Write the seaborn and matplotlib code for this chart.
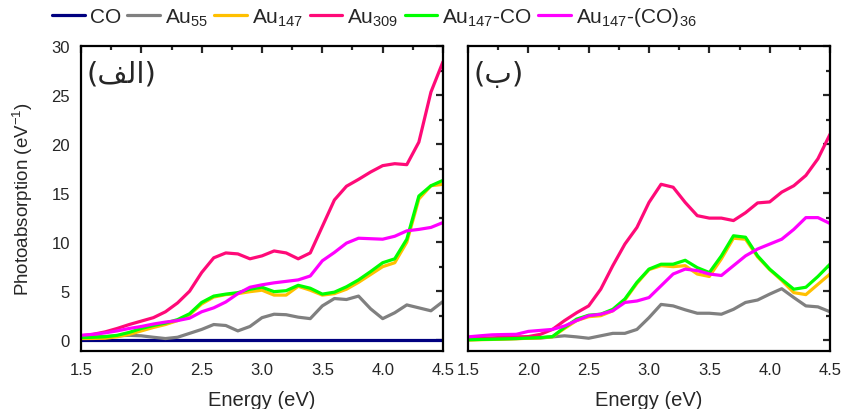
import pandas as pd
import seaborn as sns
import matplotlib.pyplot as plt
from matplotlib.ticker import MultipleLocator

# energy grid (eV), read every 0.1 eV
energy = [1.5, 1.6, 1.7, 1.8, 1.9, 2.0, 2.1, 2.2, 2.3, 2.4, 2.5,
          2.6, 2.7, 2.8, 2.9, 3.0, 3.1, 3.2, 3.3, 3.4, 3.5,
          3.6, 3.7, 3.8, 3.9, 4.0, 4.1, 4.2, 4.3, 4.4, 4.5]

systems = ['CO', 'Au$_{55}$', 'Au$_{147}$', 'Au$_{309}$', 'Au$_{147}$-CO', 'Au$_{147}$-(CO)$_{36}$']
colors = ['#000080', '#808080', '#FFC000', '#FF0A78', '#00FF00', '#FF00FF']

# panel (a)
a_co = [0.0] * 31
a_au55 = [0.3, 0.33, 0.38, 0.45, 0.5, 0.45, 0.3, 0.17, 0.3, 0.7, 1.1,
          1.6, 1.5, 0.95, 1.4, 2.3, 2.65, 2.6, 2.35, 2.2, 3.5,
          4.25, 4.15, 4.5, 3.2, 2.2, 2.8, 3.6, 3.3, 3.0, 3.95]
a_au147 = [0.17, 0.18, 0.2, 0.35, 0.6, 0.95, 1.3, 1.6, 2.0, 2.6, 3.7,
           4.4, 4.65, 4.75, 4.95, 5.1, 4.6, 4.6, 5.5, 5.1, 4.6,
           4.75, 5.2, 5.9, 6.7, 7.5, 7.9, 10.0, 14.4, 15.75, 15.9]
a_au309 = [0.45, 0.6, 0.85, 1.2, 1.6, 1.95, 2.3, 2.9, 3.8, 5.0, 6.9,
           8.4, 8.9, 8.8, 8.3, 8.6, 9.1, 8.9, 8.3, 8.9, 11.6,
           14.3, 15.7, 16.4, 17.15, 17.8, 18.0, 17.9, 20.2, 25.3, 28.4]
a_au147co = [0.27, 0.3, 0.35, 0.5, 0.8, 1.2, 1.5, 1.75, 2.1, 2.7, 3.85,
             4.5, 4.7, 4.85, 5.2, 5.4, 4.95, 5.05, 5.6, 5.3, 4.7,
             4.9, 5.45, 6.15, 7.0, 7.9, 8.3, 10.3, 14.7, 15.75, 16.3]
a_au147co36 = [0.5, 0.6, 0.75, 0.95, 1.2, 1.4, 1.65, 1.85, 2.0, 2.25, 2.9,
               3.3, 3.9, 4.75, 5.4, 5.65, 5.85, 6.0, 6.15, 6.55, 8.1,
               8.95, 9.9, 10.4, 10.35, 10.3, 10.6, 11.15, 11.3, 11.5, 12.0]

# panel (b)
b_au55 = [0.05, 0.08, 0.1, 0.13, 0.17, 0.2, 0.22, 0.34, 0.45, 0.34, 0.2,
          0.45, 0.7, 0.7, 1.1, 2.3, 3.65, 3.5, 3.1, 2.75, 2.75,
          2.65, 3.15, 3.85, 4.1, 4.7, 5.25, 4.35, 3.5, 3.4, 2.9]
b_au147 = [0.02, 0.05, 0.08, 0.12, 0.15, 0.2, 0.25, 0.35, 1.2, 2.0, 2.4,
           2.5, 3.0, 4.1, 5.8, 7.2, 7.6, 7.5, 7.6, 6.75, 6.5,
           8.3, 10.4, 10.3, 8.5, 7.2, 6.1, 4.85, 4.65, 5.7, 6.75]
b_au309 = [0.17, 0.2, 0.24, 0.3, 0.34, 0.37, 0.6, 1.1, 2.0, 2.8, 3.5,
           5.2, 7.6, 9.8, 11.5, 14.05, 15.9, 15.6, 14.05, 12.7, 12.45,
           12.45, 12.2, 13.0, 14.0, 14.1, 15.1, 15.75, 16.8, 18.5, 21.0]
b_au147co = [0.05, 0.08, 0.1, 0.14, 0.17, 0.22, 0.27, 0.37, 1.3, 2.15, 2.55,
             2.65, 3.15, 4.2, 5.9, 7.25, 7.75, 7.75, 8.15, 7.4, 6.9,
             8.6, 10.65, 10.5, 8.6, 7.25, 6.2, 5.2, 5.4, 6.5, 7.75]
b_au147co36 = [0.34, 0.45, 0.55, 0.58, 0.6, 0.9, 1.0, 1.1, 1.45, 2.0, 2.5,
               2.65, 3.0, 3.85, 4.0, 4.35, 5.55, 6.75, 7.25, 7.1, 6.75,
               6.6, 7.6, 8.6, 9.3, 9.8, 10.3, 11.3, 12.5, 12.5, 11.9]

panel_a = [a_co, a_au55, a_au147, a_au309, a_au147co, a_au147co36]
panel_b = [None, b_au55, b_au147, b_au309, b_au147co, b_au147co36]

sns.set_style('white')
plt.rcParams['font.family'] = ['Liberation Sans', 'DejaVu Sans']
plt.rcParams['mathtext.default'] = 'regular'
fs = 12


def long_frame(series):
    rows = []
    for name, vals in zip(systems, series):
        if vals is None:
            continue
        for e, v in zip(energy, vals):
            rows.append({'Energy': e, 'Absorption': v, 'System': name})
    return pd.DataFrame(rows)


fig = plt.figure(figsize=(8.43, 4.10), dpi=100)
ax1 = fig.add_axes([81 / 843, 1 - 352 / 410, 362 / 843, 305 / 410])
ax2 = fig.add_axes([468 / 843, 1 - 352 / 410, 362 / 843, 305 / 410])
palette = dict(zip(systems, colors))

for ax, series in [(ax1, panel_a), (ax2, panel_b)]:
    df = long_frame(series)
    sns.lineplot(data=df, x='Energy', y='Absorption', hue='System', palette=palette,
                 hue_order=[s for s, v in zip(systems, series) if v is not None],
                 linewidth=2.3, legend=False, sort=False, ax=ax,
                 solid_joinstyle='round', solid_capstyle='round')
    ax.set_xlim(1.5, 4.5)
    ax.set_ylim(-1.1, 30)
    ax.xaxis.set_major_locator(MultipleLocator(0.5))
    ax.xaxis.set_minor_locator(MultipleLocator(0.25))
    ax.yaxis.set_major_locator(MultipleLocator(5))
    ax.yaxis.set_minor_locator(MultipleLocator(2.5))
    ax.xaxis.set_major_formatter(plt.FormatStrFormatter('%.1f'))
    for sp in ax.spines.values():
        sp.set_linewidth(1.6)
        sp.set_color('black')
    ax.tick_params(which='both', direction='in', top=True, width=1.6, labelsize=fs, pad=8)
    ax.tick_params(which='major', length=5)
    ax.tick_params(which='minor', length=3)
    ax.set_xlabel('Energy (eV)', fontsize=fs + 2.5, labelpad=9)

ax1.tick_params(which='both', right=True)
ax1.set_ylabel('Photoabsorption (eV$^{-1}$)', fontsize=fs + 1.5, labelpad=12)
ax2.set_ylabel('')
ax2.tick_params(which='both', left=False, right=True, labelleft=False)

# Arabic panel labels; written in shaped visual order because matplotlib does no bidi shaping
ax1.text(0.015, 0.955, '(\uFED2\uFEDF\uFE8D)', transform=ax1.transAxes, fontsize=fs + 9,
         va='top', ha='left', family=['DejaVu Sans'])
ax2.text(0.015, 0.955, '(\u0628)', transform=ax2.transAxes, fontsize=fs + 9,
         va='top', ha='left', family=['DejaVu Sans'])

fig.legend(ax1.get_lines()[:6], systems, loc='upper left', bbox_to_anchor=(44 / 843, 1.005),
           ncol=6, frameon=False, fontsize=fs + 3, handlelength=1.55, handletextpad=0.25,
           columnspacing=0.3, borderaxespad=0)

fig.savefig('out.png', dpi=100)
